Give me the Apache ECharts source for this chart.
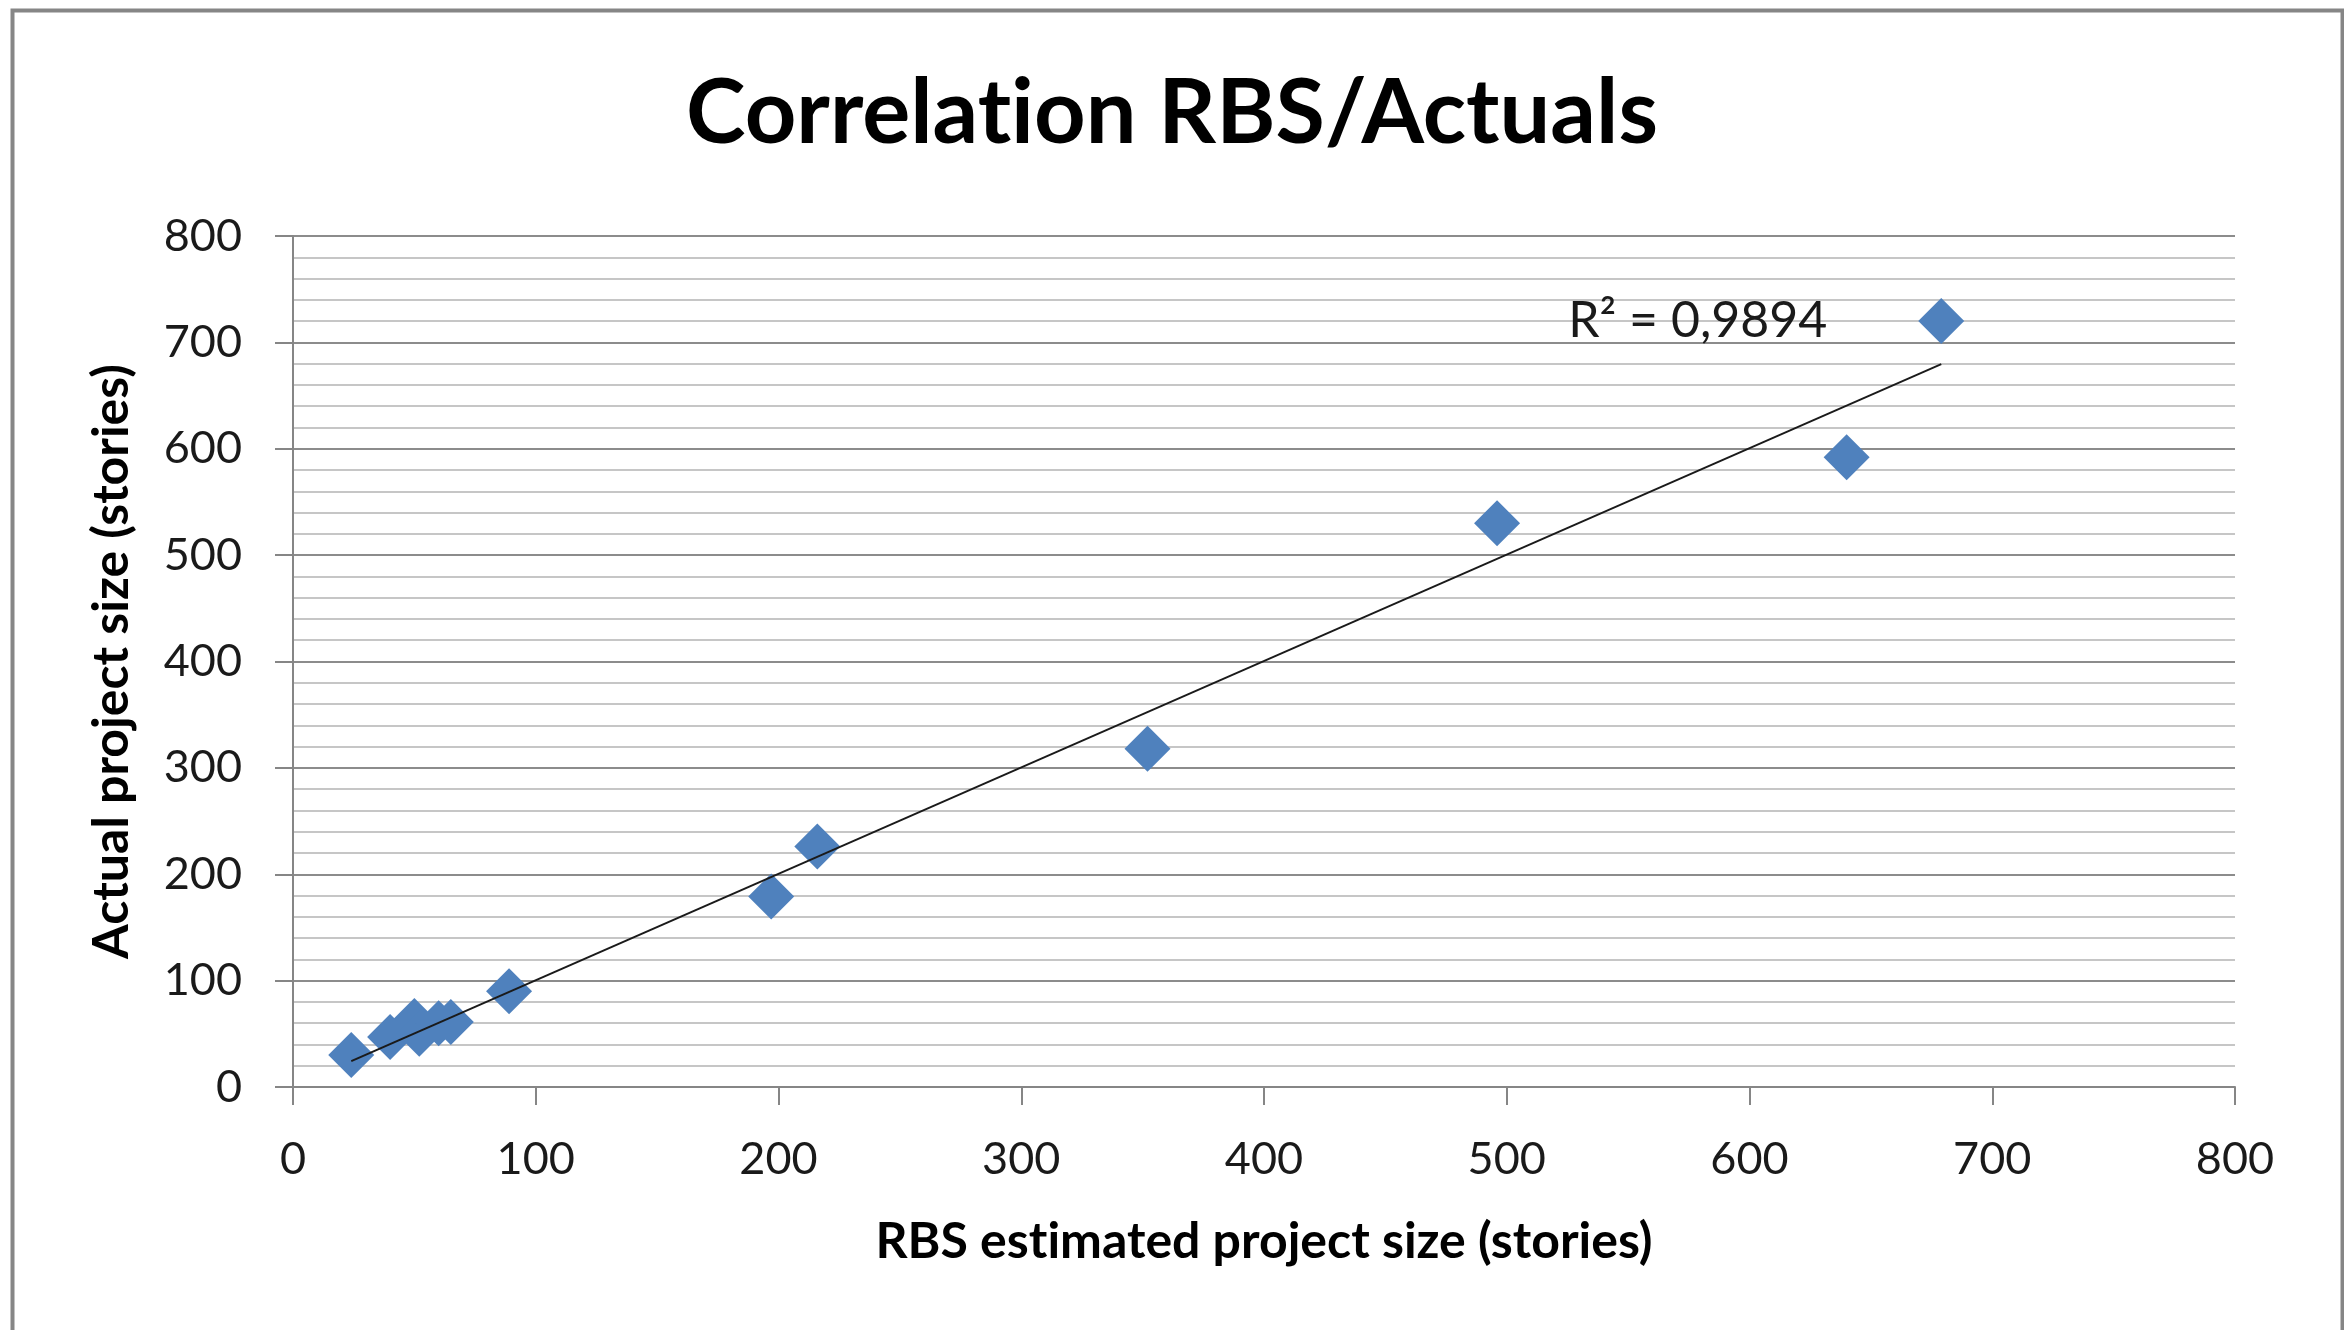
<!DOCTYPE html>
<html>
<head>
<meta charset="utf-8">
<title>Correlation RBS/Actuals</title>
<script src="https://cdn.jsdelivr.net/npm/echarts@6/dist/echarts.min.js"></script>
<style>
  html, body { margin: 0; padding: 0; background: #ffffff; }
  #chart { width: 2344px; height: 1330px; }
</style>
</head>
<body>
<div id="chart"></div>
<script>
// values
const rbsEstimated = [24, 40, 50, 52, 60, 65, 89, 197, 216, 352, 496, 640, 679];
const actualSize = [30, 47, 62, 50, 60, 61, 90, 179, 226, 318, 530, 592, 720];

// axis range, both axes 0..800 step 100
const axisMin = 0;
const axisMax = 800;
const axisStep = 100;

// \u200c keeps Lato from joining "ti" into a ligature
const titleText = 'Correlat\u200cion RBS/Actuals';
const xAxisTitle = 'RBS est\u200cimated project size (stories)';
const yAxisTitle = 'Actual project size (stories)';
const r2Text = 'R\u00b2 = 0,9894';

const FONT = 'Lato, "Open Sans", sans-serif';

// linear trendline (least squares) from the points
function linearFit(xs, ys) {
  const n = xs.length;
  const mx = xs.reduce((a, b) => a + b, 0) / n;
  const my = ys.reduce((a, b) => a + b, 0) / n;
  let sxy = 0, sxx = 0;
  for (let i = 0; i < n; i++) {
    sxy += (xs[i] - mx) * (ys[i] - my);
    sxx += (xs[i] - mx) * (xs[i] - mx);
  }
  const slope = sxy / sxx;
  return { slope: slope, intercept: my - slope * mx };
}

const fit = linearFit(rbsEstimated, actualSize);
const xLo = Math.min(...rbsEstimated);
const xHi = Math.max(...rbsEstimated);
const trendData = [
  [xLo, fit.intercept + fit.slope * xLo],
  [xHi, fit.intercept + fit.slope * xHi]
];
const points = rbsEstimated.map((x, i) => [x, actualSize[i]]);

const chart = echarts.init(document.getElementById('chart'), null, { renderer: 'canvas' });

const option = {
  backgroundColor: '#ffffff',
  animation: false,
  title: {
    text: titleText,
    left: 'center',
    top: 64,
    textStyle: {
      fontFamily: FONT,
      fontSize: 90,
      fontWeight: 'bold',
      color: '#000000'
    }
  },
  grid: {
    left: 293,
    right: 109,
    top: 236,
    bottom: 243,
    containLabel: false
  },
  xAxis: {
    type: 'value',
    min: axisMin,
    max: axisMax,
    interval: axisStep,
    name: xAxisTitle,
    nameLocation: 'middle',
    nameGap: 130,
    nameTextStyle: {
      fontFamily: FONT,
      fontSize: 50,
      fontWeight: 'bold',
      color: '#000000'
    },
    axisLine: { show: true, lineStyle: { color: '#868686', width: 2 } },
    axisTick: { show: true, length: 18, lineStyle: { color: '#868686', width: 2 } },
    axisLabel: {
      margin: 50,
      fontFamily: FONT,
      fontSize: 45,
      color: '#1a1a1a'
    },
    splitLine: { show: false }
  },
  yAxis: {
    type: 'value',
    min: axisMin,
    max: axisMax,
    interval: axisStep,
    name: yAxisTitle,
    nameLocation: 'middle',
    nameGap: 156,
    nameTextStyle: {
      fontFamily: FONT,
      fontSize: 50,
      fontWeight: 'bold',
      color: '#000000'
    },
    axisLine: { show: true, lineStyle: { color: '#868686', width: 2 } },
    axisTick: { show: true, length: 18, lineStyle: { color: '#868686', width: 2 } },
    axisLabel: {
      margin: 51,
      fontFamily: FONT,
      fontSize: 45,
      color: '#1a1a1a'
    },
    splitLine: { show: true, lineStyle: { color: '#8c8c8c', width: 2 } },
    minorTick: { show: false, splitNumber: 5 },
    minorSplitLine: { show: true, lineStyle: { color: '#c6c6c6', width: 2 } }
  },
  series: [
    {
      name: 'Actuals',
      type: 'scatter',
      symbol: 'diamond',
      symbolSize: 46,
      itemStyle: { color: '#4f81bd', opacity: 1 },
      data: points,
      z: 3
    },
    {
      name: 'Trend',
      type: 'line',
      data: trendData,
      symbol: 'none',
      lineStyle: { color: '#1a1a1a', width: 2 },
      z: 4
    }
  ]
};

chart.setOption(option);

// R² label sits left of the last (largest) point, plus the outer frame
const lastPt = chart.convertToPixel({ gridIndex: 0 }, [xHi, actualSize[rbsEstimated.indexOf(xHi)]]);
chart.setOption({
  graphic: [
    {
      type: 'rect',
      left: 10,
      top: 8,
      shape: { width: 2330, height: 1345 },
      style: { fill: 'none', stroke: '#868686', lineWidth: 4 },
      silent: true
    },
    {
      type: 'text',
      x: lastPt[0] - 114,
      y: lastPt[1],
      style: {
        text: r2Text,
        font: '50px ' + FONT,
        fill: '#1a1a1a',
        align: 'right',
        verticalAlign: 'middle'
      },
      z: 10
    }
  ]
});
</script>
</body>
</html>
